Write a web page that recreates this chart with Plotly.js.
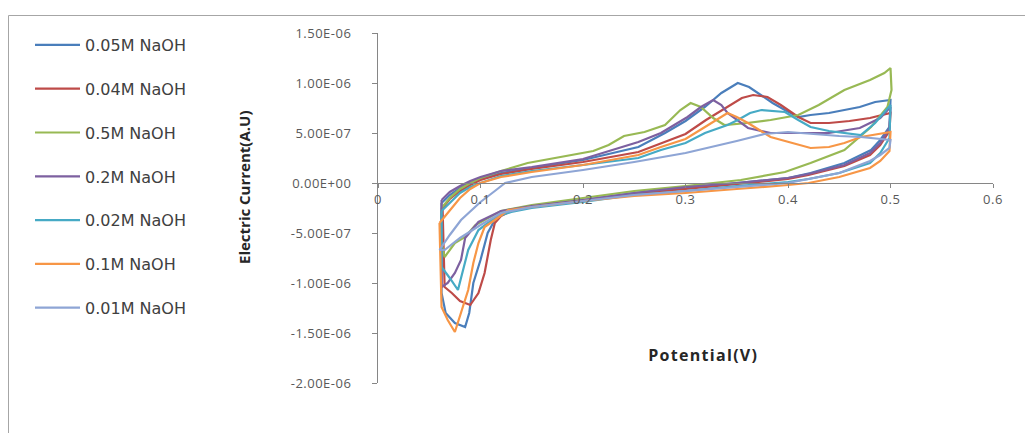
<!DOCTYPE html>
<html><head><meta charset="utf-8">
<script src="https://cdn.plot.ly/plotly-3.0.1.min.js"></script>
<style>
html,body{margin:0;padding:0;background:#fff}
#chart{width:1025px;height:433px}
#chart .xtick text,#chart .ytick text{letter-spacing:0.5px}
#chart g.annotation[data-index="1"] text{letter-spacing:1.3px}
</style>
</head><body><div id="chart"></div>
<script>
// ---- data (potential in V, current in A) ----
const v005 = [0.062,0.07,0.08,0.09,0.1,0.12,0.15,0.2,0.254,0.28,0.3,0.319,0.335,0.351,0.362,0.371,0.385,0.397,0.41,0.422,0.44,0.455,0.47,0.485,0.5,
              0.499,0.49,0.481,0.455,0.422,0.4,0.35,0.3,0.25,0.2,0.15,0.13,0.115,0.107,0.1,0.093,0.089,0.085,0.075,0.066,0.062,0.062];
const i005 = [-2.0e-7,-1.2e-7,-5e-8,0,4e-8,1.0e-7,1.5e-7,2.3e-7,3.6e-7,5.0e-7,6.2e-7,7.6e-7,9.0e-7,1.0e-6,9.6e-7,9.0e-7,8.0e-7,7.3e-7,6.6e-7,6.8e-7,7.0e-7,7.3e-7,7.6e-7,8.1e-7,8.3e-7,
              5.6e-7,4.3e-7,3.3e-7,2.0e-7,1.0e-7,5e-8,0,-5e-8,-1.0e-7,-1.7e-7,-2.3e-7,-2.7e-7,-3.5e-7,-5.0e-7,-7.7e-7,-1.0e-6,-1.3e-6,-1.44e-6,-1.4e-6,-1.3e-6,-1.1e-6,-2.0e-7];

const v004 = [0.063,0.07,0.08,0.09,0.1,0.12,0.15,0.2,0.254,0.28,0.3,0.32,0.34,0.355,0.366,0.38,0.393,0.41,0.422,0.44,0.46,0.48,0.5,
              0.499,0.49,0.48,0.455,0.42,0.4,0.35,0.3,0.25,0.2,0.15,0.13,0.12,0.114,0.11,0.104,0.098,0.09,0.08,0.072,0.065,0.063];
const i004 = [-2.5e-7,-1.6e-7,-8e-8,-2e-8,3e-8,9e-8,1.4e-7,2.1e-7,3.1e-7,4.1e-7,4.9e-7,6.3e-7,7.6e-7,8.5e-7,8.8e-7,8.6e-7,7.8e-7,6.6e-7,6.0e-7,6.0e-7,6.2e-7,6.5e-7,7.0e-7,
              5.2e-7,3.8e-7,2.8e-7,1.7e-7,8e-8,4e-8,-1e-8,-6e-8,-1.1e-7,-1.8e-7,-2.4e-7,-2.8e-7,-3.3e-7,-4.0e-7,-5.7e-7,-9.0e-7,-1.1e-6,-1.22e-6,-1.18e-6,-1.1e-6,-1.04e-6,-2.5e-7];

const v05 = [0.062,0.07,0.08,0.09,0.1,0.12,0.146,0.18,0.21,0.225,0.24,0.26,0.28,0.295,0.305,0.315,0.327,0.338,0.36,0.383,0.41,0.43,0.455,0.48,0.494,0.5,
             0.501,0.497,0.481,0.455,0.422,0.397,0.354,0.3,0.25,0.2,0.15,0.12,0.105,0.095,0.085,0.075,0.065,0.062,0.062];
const i05 = [-2.5e-7,-1.5e-7,-6e-8,0,5e-8,1.2e-7,2.0e-7,2.6e-7,3.2e-7,3.8e-7,4.7e-7,5.1e-7,5.8e-7,7.3e-7,8.0e-7,7.6e-7,6.5e-7,5.8e-7,6.0e-7,6.3e-7,6.8e-7,7.8e-7,9.3e-7,1.03e-6,1.1e-6,1.15e-6,
             9.3e-7,7.6e-7,5.6e-7,3.3e-7,2.0e-7,1.1e-7,3e-8,-3e-8,-8e-8,-1.5e-7,-2.2e-7,-2.8e-7,-3.6e-7,-4.2e-7,-5.4e-7,-6.0e-7,-7.4e-7,-6.0e-7,-2.5e-7];

const v02 = [0.062,0.07,0.08,0.09,0.1,0.12,0.15,0.2,0.254,0.276,0.302,0.315,0.327,0.335,0.341,0.361,0.383,0.41,0.44,0.47,0.49,0.5,
             0.499,0.49,0.48,0.455,0.42,0.4,0.35,0.3,0.25,0.2,0.15,0.12,0.098,0.085,0.081,0.075,0.068,0.062,0.062];
const i02 = [-1.7e-7,-9e-8,-3e-8,2e-8,6e-8,1.2e-7,1.6e-7,2.4e-7,4.1e-7,5.0e-7,6.6e-7,7.6e-7,8.3e-7,7.8e-7,7.0e-7,5.5e-7,5.0e-7,5.0e-7,5.0e-7,5.5e-7,6.5e-7,7.6e-7,
             5.5e-7,4.0e-7,3.0e-7,1.8e-7,9e-8,5e-8,0,-4e-8,-1.0e-7,-1.7e-7,-2.3e-7,-2.8e-7,-3.9e-7,-5.5e-7,-7.7e-7,-9.0e-7,-1.0e-6,-1.04e-6,-1.7e-7];

const v002 = [0.062,0.07,0.08,0.09,0.1,0.12,0.15,0.2,0.254,0.276,0.3,0.319,0.341,0.351,0.363,0.374,0.397,0.41,0.422,0.44,0.471,0.485,0.5,
              0.499,0.49,0.48,0.45,0.42,0.4,0.35,0.3,0.25,0.2,0.15,0.13,0.115,0.098,0.088,0.082,0.078,0.07,0.062,0.062];
const i002 = [-2.8e-7,-2.0e-7,-1.0e-7,-4e-8,0,7e-8,1.2e-7,1.8e-7,2.5e-7,3.3e-7,4.0e-7,5.0e-7,5.8e-7,6.3e-7,7.0e-7,7.3e-7,7.1e-7,6.3e-7,5.6e-7,5.2e-7,4.8e-7,6.0e-7,7.8e-7,
              4.5e-7,3.0e-7,2.0e-7,1.0e-7,4e-8,1e-8,-3e-8,-8e-8,-1.2e-7,-1.9e-7,-2.5e-7,-2.9e-7,-3.4e-7,-4.7e-7,-6.7e-7,-9.0e-7,-1.07e-6,-9.5e-7,-8.4e-7,-2.8e-7];

const v01 = [0.06,0.07,0.08,0.09,0.1,0.12,0.15,0.2,0.254,0.276,0.3,0.319,0.341,0.35,0.361,0.383,0.41,0.422,0.44,0.455,0.471,0.5,
             0.499,0.49,0.48,0.45,0.42,0.4,0.35,0.3,0.25,0.2,0.15,0.127,0.114,0.104,0.098,0.093,0.088,0.081,0.075,0.068,0.062,0.06];
const i01 = [-4.0e-7,-2.8e-7,-1.5e-7,-6e-8,0,6e-8,1.1e-7,1.8e-7,2.8e-7,3.6e-7,4.4e-7,5.6e-7,7.0e-7,6.6e-7,6.0e-7,4.6e-7,3.8e-7,3.5e-7,3.6e-7,4.0e-7,4.6e-7,5.1e-7,
             3.2e-7,2.2e-7,1.5e-7,6e-8,0,-2e-8,-6e-8,-1.0e-7,-1.3e-7,-1.8e-7,-2.4e-7,-2.7e-7,-3.7e-7,-4.4e-7,-6.0e-7,-8.0e-7,-1.07e-6,-1.3e-6,-1.49e-6,-1.37e-6,-1.24e-6,-4.0e-7];

const v001 = [0.06,0.07,0.081,0.09,0.1,0.114,0.124,0.15,0.2,0.25,0.3,0.35,0.377,0.4,0.422,0.45,0.471,0.5,
              0.499,0.49,0.48,0.45,0.4,0.35,0.3,0.25,0.2,0.15,0.12,0.1,0.08,0.065,0.06];
const i001 = [-6.7e-7,-5.2e-7,-3.7e-7,-2.8e-7,-1.9e-7,-8e-8,0,6e-8,1.3e-7,2.1e-7,3.0e-7,4.2e-7,4.9e-7,5.1e-7,4.9e-7,4.7e-7,4.6e-7,4.3e-7,
              3.5e-7,2.8e-7,2.2e-7,1.0e-7,0,-4e-8,-8e-8,-1.2e-7,-1.8e-7,-2.4e-7,-3.0e-7,-4.2e-7,-5.5e-7,-6.7e-7,-6.7e-7];

const seriesNames  = ['0.05M NaOH','0.04M NaOH','0.5M NaOH','0.2M NaOH','0.02M NaOH','0.1M NaOH','0.01M NaOH'];
const seriesX      = [v005, v004, v05, v02, v002, v01, v001];
const seriesY      = [i005, i004, i05, i02, i002, i01, i001];
const seriesColors = ['#4A7EBB','#BE4B48','#98B954','#7D60A0','#46AAC5','#F79646','#8EA5D5'];

const xTickVals = [0, 0.1, 0.2, 0.3, 0.4, 0.5, 0.6];
const xTickText = ['0','0.1','0.2','0.3','0.4','0.5','0.6'];
const yTickVals = [1.5e-6, 1e-6, 5e-7, 0, -5e-7, -1e-6, -1.5e-6, -2e-6];
const yTickText = ['1.50E-06','1.00E-06','5.00E-07','0.00E+00','-5.00E-07','-1.00E-06','-1.50E-06','-2.00E-06'];
const xRange = [0, 0.6];
const yRange = [-2e-6, 1.5e-6];

const traces = seriesNames.map((name, k) => ({
  type: 'scatter', mode: 'lines', name: name, legendgroup: name,
  x: seriesX[k], y: seriesY[k],
  line: {color: seriesColors[k], width: 2.2}
}));

const W = 1025, H = 433;
const mL = 378, mR = 32, mT = 33, mB = 50;
const pw = W - mL - mR, ph = H - mT - mB;
const px = p => (p - mL) / pw;            // pixel x -> paper x
const py = p => (H - mB - p) / ph;        // pixel y -> paper y
const font = '"Open Sans", "DejaVu Sans", sans-serif';

const layout = {
  width: W, height: H,
  margin: {l: mL, r: mR, t: mT, b: mB},
  paper_bgcolor: '#ffffff', plot_bgcolor: '#ffffff',
  showlegend: true,
  legend: {
    x: px(30), y: py(28), xanchor: 'left', yanchor: 'top',
    font: {family: '"DejaVu Sans", sans-serif', size: 16, color: '#404040'},
    tracegroupgap: 20, itemwidth: 45, bgcolor: 'rgba(0,0,0,0)', borderwidth: 0,
    maxheight: 1
  },
  xaxis: {
    range: xRange, anchor: 'free', position: -yRange[0] / (yRange[1] - yRange[0]),
    showgrid: false, zeroline: false, showline: true, linecolor: '#868686', linewidth: 1,
    ticks: 'outside', ticklen: 4, tickcolor: '#868686',
    tickmode: 'array', tickvals: xTickVals, ticktext: xTickText,
    tickfont: {family: font, size: 13, color: '#595959'}
  },
  yaxis: {
    range: yRange,
    showgrid: false, zeroline: false, showline: true, linecolor: '#868686', linewidth: 1,
    ticks: 'outside', ticklen: 5, tickcolor: '#868686', ticklabelstandoff: 18,
    tickmode: 'array', tickvals: yTickVals, ticktext: yTickText,
    tickfont: {family: font, size: 13, color: '#595959'}
  },
  annotations: [
    {text: '<b>Electric Current(A.U)</b>', xref: 'paper', yref: 'paper', x: px(244), y: py(188),
     textangle: -90, showarrow: false, xanchor: 'center', yanchor: 'middle',
     font: {family: font, size: 15, color: '#262626'}},
    {text: '<b>Potential(V)</b>', xref: 'paper', yref: 'paper', x: px(703), y: py(355),
     showarrow: false, xanchor: 'center', yanchor: 'middle',
     font: {family: font, size: 16, color: '#262626'}}
  ],
  shapes: [
    {type: 'rect', xref: 'paper', yref: 'paper', x0: px(8.5), x1: px(1030), y0: py(450), y1: py(15.5),
     line: {color: '#a6a6a6', width: 1}, fillcolor: 'rgba(0,0,0,0)', layer: 'below'}
  ]
};

Plotly.newPlot('chart', traces, layout, {displayModeBar: false, staticPlot: true});
</script>
</body></html>
